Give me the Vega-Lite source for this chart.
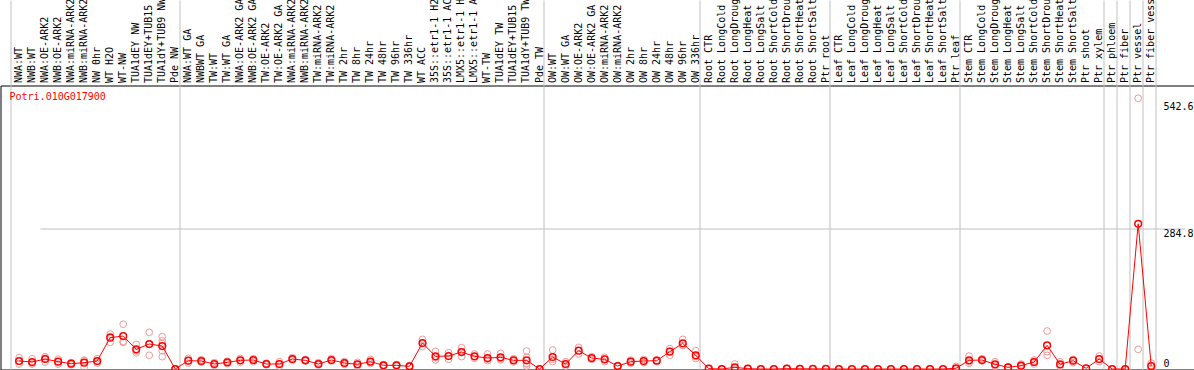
{
  "$schema": "https://vega.github.io/schema/vega-lite/v6.json",
  "autosize": "none",
  "width": 1194,
  "height": 284,
  "padding": {"left": 0.5, "top": 85.5, "right": 0, "bottom": 0.5},
  "background": "white",
  "config": {"view": {"stroke": "black", "strokeWidth": 1}, "font": "DejaVu Sans Mono"},
  "datasets": {
    "means": [
      {"col": "NWA:WT", "value": 16.3}, {"col": "NWB:WT", "value": 14.2}, {"col": "NWA:OE-ARK2", "value": 20.3}, {"col": "NWB:OE-ARK2", "value": 14.9},
      {"col": "NWA:miRNA-ARK2", "value": 10.8}, {"col": "NWB:miRNA-ARK2", "value": 12.9}, {"col": "NW 0hr", "value": 16.3}, {"col": "WT H2O", "value": 63.7},
      {"col": "WT-NW", "value": 67.0}, {"col": "TUA1dEY NW", "value": 40.0}, {"col": "TUA1dEY+TUB15 NW", "value": 50.8}, {"col": "TUA1dY+TUB9 NW", "value": 46.7},
      {"col": "Pde NW", "value": 0},
      {"col": "NWA:WT GA", "value": 16.9}, {"col": "NWBWT GA", "value": 16.3}, {"col": "TW:WT", "value": 10.2}, {"col": "TW:WT GA", "value": 13.5},
      {"col": "NWA:OE-ARK2 GA", "value": 17.6}, {"col": "NWB:OE-ARK2 GA", "value": 18.3}, {"col": "TW:OE-ARK2", "value": 10.2}, {"col": "TW:OE-ARK2 GA", "value": 10.2},
      {"col": "NWA:miRNA-ARK2 GA", "value": 20.3}, {"col": "NWB:miRNA-ARK2 GA", "value": 17.6}, {"col": "TW:miRNA-ARK2", "value": 10.2}, {"col": "TW:miRNA-ARK2 GA", "value": 18.3},
      {"col": "TW 2hr", "value": 12.2}, {"col": "TW 8hr", "value": 9.5}, {"col": "TW 24hr", "value": 14.9}, {"col": "TW 48hr", "value": 7.5}, {"col": "TW 96hr", "value": 7.5},
      {"col": "TW 336hr", "value": 5.4}, {"col": "WT ACC", "value": 52.8}, {"col": "35S::etr1-1 H2O", "value": 25.7}, {"col": "35S::etr1-1 ACC", "value": 26.4},
      {"col": "LMX5::etr1-1 H2O", "value": 34.5}, {"col": "LMX5::etr1-1 ACC", "value": 25.7}, {"col": "WT-TW", "value": 22.3}, {"col": "TUA1dEY TW", "value": 23.7},
      {"col": "TUA1dEY+TUB15 TW", "value": 17.6}, {"col": "TUA1dY+TUB9 TW", "value": 17.6}, {"col": "Pde TW", "value": 0},
      {"col": "OW:WT", "value": 24.4}, {"col": "OW:WT GA", "value": 10.2}, {"col": "OW:OE-ARK2", "value": 37.2}, {"col": "OW:OE-ARK2 GA", "value": 22.3},
      {"col": "OW:miRNA-ARK2", "value": 19.6}, {"col": "OW:miRNA-ARK2 GA", "value": 6.1}, {"col": "OW 2hr", "value": 14.9}, {"col": "OW 8hr", "value": 16.3},
      {"col": "OW 24hr", "value": 16.9}, {"col": "OW 48hr", "value": 35.2}, {"col": "OW 96hr", "value": 52.1}, {"col": "OW 336hr", "value": 27.8},
      {"col": "Root CTR", "value": 0.7}, {"col": "Root LongCold", "value": 0}, {"col": "Root LongDrought", "value": 3.4}, {"col": "Root LongHeat", "value": 0.7},
      {"col": "Root LongSalt", "value": 0}, {"col": "Root ShortCold", "value": 0}, {"col": "Root ShortDrought", "value": 0.7}, {"col": "Root ShortHeat", "value": 0.5},
      {"col": "Root ShortSalt", "value": 0.3}, {"col": "Ptr root", "value": 0.3},
      {"col": "Leaf CTR", "value": 0}, {"col": "Leaf LongCold", "value": 0}, {"col": "Leaf LongDrought", "value": 0}, {"col": "Leaf LongHeat", "value": 0},
      {"col": "Leaf LongSalt", "value": 0}, {"col": "Leaf ShortCold", "value": 0}, {"col": "Leaf ShortDrought", "value": 0}, {"col": "Leaf ShortHeat", "value": 0},
      {"col": "Leaf ShortSalt", "value": 0}, {"col": "Ptr leaf", "value": 1.5},
      {"col": "Stem CTR", "value": 17.6}, {"col": "Stem LongCold", "value": 18.3}, {"col": "Stem LongDrought", "value": 9.5}, {"col": "Stem LongHeat", "value": 3.4},
      {"col": "Stem LongSalt", "value": 6.8}, {"col": "Stem ShortCold", "value": 14.2}, {"col": "Stem ShortDrought", "value": 48.1}, {"col": "Stem ShortHeat", "value": 9.5},
      {"col": "Stem ShortSalt", "value": 16.9}, {"col": "Ptr shoot", "value": 1.4}, {"col": "Ptr xylem", "value": 20.3},
      {"col": "Ptr phloem", "value": 0}, {"col": "Ptr fiber", "value": 0}, {"col": "Ptr vessel", "value": 295}, {"col": "Ptr fiber vessel", "value": 6.1}
    ],
    "reps": [
      {"col": "NWA:WT", "value": 23}, {"col": "NWA:WT", "value": 16}, {"col": "NWA:WT", "value": 10},
      {"col": "NWB:WT", "value": 21}, {"col": "NWB:WT", "value": 12}, {"col": "NWB:WT", "value": 10},
      {"col": "NWA:OE-ARK2", "value": 25}, {"col": "NWA:OE-ARK2", "value": 22}, {"col": "NWA:OE-ARK2", "value": 14},
      {"col": "NWB:OE-ARK2", "value": 20}, {"col": "NWB:OE-ARK2", "value": 15}, {"col": "NWB:OE-ARK2", "value": 10},
      {"col": "NWA:miRNA-ARK2", "value": 13}, {"col": "NWA:miRNA-ARK2", "value": 11}, {"col": "NWA:miRNA-ARK2", "value": 8.5},
      {"col": "NWB:miRNA-ARK2", "value": 18}, {"col": "NWB:miRNA-ARK2", "value": 17}, {"col": "NWB:miRNA-ARK2", "value": 3.5},
      {"col": "NW 0hr", "value": 21}, {"col": "NW 0hr", "value": 16}, {"col": "NW 0hr", "value": 12},
      {"col": "WT H2O", "value": 71}, {"col": "WT H2O", "value": 66}, {"col": "WT H2O", "value": 54},
      {"col": "WT-NW", "value": 91}, {"col": "WT-NW", "value": 56}, {"col": "WT-NW", "value": 54},
      {"col": "TUA1dEY NW", "value": 50}, {"col": "TUA1dEY NW", "value": 37}, {"col": "TUA1dEY NW", "value": 33},
      {"col": "TUA1dEY+TUB15 NW", "value": 74.5}, {"col": "TUA1dEY+TUB15 NW", "value": 50}, {"col": "TUA1dEY+TUB15 NW", "value": 27.9},
      {"col": "TUA1dY+TUB9 NW", "value": 65.7}, {"col": "TUA1dY+TUB9 NW", "value": 57.6}, {"col": "TUA1dY+TUB9 NW", "value": 52}, {"col": "TUA1dY+TUB9 NW", "value": 37.2}, {"col": "TUA1dY+TUB9 NW", "value": 25.1},
      {"col": "Pde NW", "value": 0}, {"col": "Pde NW", "value": 0},
      {"col": "NWA:WT GA", "value": 21.7}, {"col": "NWA:WT GA", "value": 17}, {"col": "NWA:WT GA", "value": 12},
      {"col": "NWBWT GA", "value": 19}, {"col": "NWBWT GA", "value": 16}, {"col": "NWBWT GA", "value": 14},
      {"col": "TW:WT", "value": 13}, {"col": "TW:WT", "value": 10}, {"col": "TW:WT", "value": 7.5},
      {"col": "TW:WT GA", "value": 16}, {"col": "TW:WT GA", "value": 13.5}, {"col": "TW:WT GA", "value": 11},
      {"col": "NWA:OE-ARK2 GA", "value": 21.7}, {"col": "NWA:OE-ARK2 GA", "value": 17.6}, {"col": "NWA:OE-ARK2 GA", "value": 13.5},
      {"col": "NWB:OE-ARK2 GA", "value": 21}, {"col": "NWB:OE-ARK2 GA", "value": 18}, {"col": "NWB:OE-ARK2 GA", "value": 15},
      {"col": "TW:OE-ARK2", "value": 12}, {"col": "TW:OE-ARK2", "value": 10}, {"col": "TW:OE-ARK2", "value": 8.5},
      {"col": "TW:OE-ARK2 GA", "value": 14.9}, {"col": "TW:OE-ARK2 GA", "value": 10}, {"col": "TW:OE-ARK2 GA", "value": 6},
      {"col": "NWA:miRNA-ARK2 GA", "value": 23}, {"col": "NWA:miRNA-ARK2 GA", "value": 20}, {"col": "NWA:miRNA-ARK2 GA", "value": 18},
      {"col": "NWB:miRNA-ARK2 GA", "value": 19}, {"col": "NWB:miRNA-ARK2 GA", "value": 17.6}, {"col": "NWB:miRNA-ARK2 GA", "value": 16},
      {"col": "TW:miRNA-ARK2", "value": 13}, {"col": "TW:miRNA-ARK2", "value": 10}, {"col": "TW:miRNA-ARK2", "value": 8},
      {"col": "TW:miRNA-ARK2 GA", "value": 21}, {"col": "TW:miRNA-ARK2 GA", "value": 18}, {"col": "TW:miRNA-ARK2 GA", "value": 16},
      {"col": "TW 2hr", "value": 15}, {"col": "TW 2hr", "value": 12}, {"col": "TW 2hr", "value": 9.5},
      {"col": "TW 8hr", "value": 13.5}, {"col": "TW 8hr", "value": 9.5}, {"col": "TW 8hr", "value": 6},
      {"col": "TW 24hr", "value": 19.6}, {"col": "TW 24hr", "value": 15}, {"col": "TW 24hr", "value": 11.5},
      {"col": "TW 48hr", "value": 9}, {"col": "TW 48hr", "value": 7.5}, {"col": "TW 48hr", "value": 6},
      {"col": "TW 96hr", "value": 9}, {"col": "TW 96hr", "value": 7.5}, {"col": "TW 96hr", "value": 6},
      {"col": "TW 336hr", "value": 7}, {"col": "TW 336hr", "value": 5}, {"col": "TW 336hr", "value": 4},
      {"col": "WT ACC", "value": 60.3}, {"col": "WT ACC", "value": 52}, {"col": "WT ACC", "value": 46},
      {"col": "35S::etr1-1 H2O", "value": 35.9}, {"col": "35S::etr1-1 H2O", "value": 23}, {"col": "35S::etr1-1 H2O", "value": 18.3},
      {"col": "35S::etr1-1 ACC", "value": 33.2}, {"col": "35S::etr1-1 ACC", "value": 26}, {"col": "35S::etr1-1 ACC", "value": 19.6},
      {"col": "LMX5::etr1-1 H2O", "value": 43.3}, {"col": "LMX5::etr1-1 H2O", "value": 35}, {"col": "LMX5::etr1-1 H2O", "value": 25.1},
      {"col": "LMX5::etr1-1 ACC", "value": 30.5}, {"col": "LMX5::etr1-1 ACC", "value": 25}, {"col": "LMX5::etr1-1 ACC", "value": 21.7},
      {"col": "WT-TW", "value": 30.5}, {"col": "WT-TW", "value": 20}, {"col": "WT-TW", "value": 16.9},
      {"col": "TUA1dEY TW", "value": 31.8}, {"col": "TUA1dEY TW", "value": 21}, {"col": "TUA1dEY TW", "value": 18.3},
      {"col": "TUA1dEY+TUB15 TW", "value": 21}, {"col": "TUA1dEY+TUB15 TW", "value": 17.6}, {"col": "TUA1dEY+TUB15 TW", "value": 14.2},
      {"col": "TUA1dY+TUB9 TW", "value": 36.6}, {"col": "TUA1dY+TUB9 TW", "value": 24}, {"col": "TUA1dY+TUB9 TW", "value": 10.2}, {"col": "TUA1dY+TUB9 TW", "value": 6.1}, {"col": "TUA1dY+TUB9 TW", "value": 11},
      {"col": "Pde TW", "value": 0}, {"col": "Pde TW", "value": 0},
      {"col": "OW:WT", "value": 38.6}, {"col": "OW:WT", "value": 19.6}, {"col": "OW:WT", "value": 15},
      {"col": "OW:WT GA", "value": 14.9}, {"col": "OW:WT GA", "value": 10}, {"col": "OW:WT GA", "value": 6.1},
      {"col": "OW:OE-ARK2", "value": 44}, {"col": "OW:OE-ARK2", "value": 37}, {"col": "OW:OE-ARK2", "value": 30.5},
      {"col": "OW:OE-ARK2 GA", "value": 25}, {"col": "OW:OE-ARK2 GA", "value": 22}, {"col": "OW:OE-ARK2 GA", "value": 19.6},
      {"col": "OW:miRNA-ARK2", "value": 23.7}, {"col": "OW:miRNA-ARK2", "value": 19.6}, {"col": "OW:miRNA-ARK2", "value": 14.9},
      {"col": "OW:miRNA-ARK2 GA", "value": 7}, {"col": "OW:miRNA-ARK2 GA", "value": 6}, {"col": "OW:miRNA-ARK2 GA", "value": 5},
      {"col": "OW 2hr", "value": 18.3}, {"col": "OW 2hr", "value": 15}, {"col": "OW 2hr", "value": 11.5},
      {"col": "OW 8hr", "value": 19.6}, {"col": "OW 8hr", "value": 16}, {"col": "OW 8hr", "value": 13},
      {"col": "OW 24hr", "value": 18.3}, {"col": "OW 24hr", "value": 17}, {"col": "OW 24hr", "value": 15.6},
      {"col": "OW 48hr", "value": 41.3}, {"col": "OW 48hr", "value": 36}, {"col": "OW 48hr", "value": 28},
      {"col": "OW 96hr", "value": 60.3}, {"col": "OW 96hr", "value": 48}, {"col": "OW 96hr", "value": 48.1},
      {"col": "OW 336hr", "value": 37.2}, {"col": "OW 336hr", "value": 25}, {"col": "OW 336hr", "value": 21},
      {"col": "Root CTR", "value": 1.4}, {"col": "Root CTR", "value": 0},
      {"col": "Root LongCold", "value": 0}, {"col": "Root LongCold", "value": 0},
      {"col": "Root LongDrought", "value": 10.2}, {"col": "Root LongDrought", "value": 0}, {"col": "Root LongDrought", "value": 0},
      {"col": "Root LongHeat", "value": 1.4}, {"col": "Root LongHeat", "value": 0},
      {"col": "Root LongSalt", "value": 0}, {"col": "Root ShortCold", "value": 0},
      {"col": "Root ShortDrought", "value": 1.4}, {"col": "Root ShortDrought", "value": 0},
      {"col": "Root ShortHeat", "value": 1}, {"col": "Root ShortHeat", "value": 0},
      {"col": "Root ShortSalt", "value": 0.5}, {"col": "Ptr root", "value": 0.5},
      {"col": "Leaf CTR", "value": 0}, {"col": "Leaf LongCold", "value": 0}, {"col": "Leaf LongDrought", "value": 0}, {"col": "Leaf LongHeat", "value": 0},
      {"col": "Leaf LongSalt", "value": 0}, {"col": "Leaf ShortCold", "value": 0}, {"col": "Leaf ShortDrought", "value": 0}, {"col": "Leaf ShortHeat", "value": 0},
      {"col": "Leaf ShortSalt", "value": 0},
      {"col": "Ptr leaf", "value": 5.4}, {"col": "Ptr leaf", "value": 0.5}, {"col": "Ptr leaf", "value": 0},
      {"col": "Stem CTR", "value": 26.4}, {"col": "Stem CTR", "value": 15}, {"col": "Stem CTR", "value": 11.5},
      {"col": "Stem LongCold", "value": 21}, {"col": "Stem LongCold", "value": 18}, {"col": "Stem LongCold", "value": 16},
      {"col": "Stem LongDrought", "value": 14.9}, {"col": "Stem LongDrought", "value": 8}, {"col": "Stem LongDrought", "value": 5.5},
      {"col": "Stem LongHeat", "value": 4}, {"col": "Stem LongHeat", "value": 3.4}, {"col": "Stem LongHeat", "value": 2.8},
      {"col": "Stem LongSalt", "value": 10.2}, {"col": "Stem LongSalt", "value": 6}, {"col": "Stem LongSalt", "value": 4.2},
      {"col": "Stem ShortCold", "value": 18.3}, {"col": "Stem ShortCold", "value": 14}, {"col": "Stem ShortCold", "value": 10.2},
      {"col": "Stem ShortDrought", "value": 77.2}, {"col": "Stem ShortDrought", "value": 35.2}, {"col": "Stem ShortDrought", "value": 27.8},
      {"col": "Stem ShortHeat", "value": 14.9}, {"col": "Stem ShortHeat", "value": 8}, {"col": "Stem ShortHeat", "value": 5.5},
      {"col": "Stem ShortSalt", "value": 19.6}, {"col": "Stem ShortSalt", "value": 17}, {"col": "Stem ShortSalt", "value": 12.9},
      {"col": "Ptr shoot", "value": 1.4},
      {"col": "Ptr xylem", "value": 26.4}, {"col": "Ptr xylem", "value": 20}, {"col": "Ptr xylem", "value": 14.9},
      {"col": "Ptr phloem", "value": 0}, {"col": "Ptr fiber", "value": 0},
      {"col": "Ptr vessel", "value": 550}, {"col": "Ptr vessel", "value": 40},
      {"col": "Ptr fiber vessel", "value": 12}, {"col": "Ptr fiber vessel", "value": 0.2}
    ],
    "gene": [{"gene": "Potri.010G017900"}]
  },
  "layer": [
    {
      "encoding": {
        "x": {
          "field": "col",
          "type": "nominal",
          "bandPosition": 0.7,
          "scale": {
            "type": "band",
            "domain": ["NWA:WT", "NWB:WT", "NWA:OE-ARK2", "NWB:OE-ARK2", "NWA:miRNA-ARK2", "NWB:miRNA-ARK2", "NW 0hr", "WT H2O", "WT-NW", "TUA1dEY NW", "TUA1dEY+TUB15 NW", "TUA1dY+TUB9 NW", "Pde NW",
              "NWA:WT GA", "NWBWT GA", "TW:WT", "TW:WT GA", "NWA:OE-ARK2 GA", "NWB:OE-ARK2 GA", "TW:OE-ARK2", "TW:OE-ARK2 GA", "NWA:miRNA-ARK2 GA", "NWB:miRNA-ARK2 GA", "TW:miRNA-ARK2", "TW:miRNA-ARK2 GA",
              "TW 2hr", "TW 8hr", "TW 24hr", "TW 48hr", "TW 96hr", "TW 336hr", "WT ACC", "35S::etr1-1 H2O", "35S::etr1-1 ACC", "LMX5::etr1-1 H2O", "LMX5::etr1-1 ACC", "WT-TW", "TUA1dEY TW", "TUA1dEY+TUB15 TW", "TUA1dY+TUB9 TW", "Pde TW",
              "OW:WT", "OW:WT GA", "OW:OE-ARK2", "OW:OE-ARK2 GA", "OW:miRNA-ARK2", "OW:miRNA-ARK2 GA", "OW 2hr", "OW 8hr", "OW 24hr", "OW 48hr", "OW 96hr", "OW 336hr",
              "Root CTR", "Root LongCold", "Root LongDrought", "Root LongHeat", "Root LongSalt", "Root ShortCold", "Root ShortDrought", "Root ShortHeat", "Root ShortSalt", "Ptr root",
              "Leaf CTR", "Leaf LongCold", "Leaf LongDrought", "Leaf LongHeat", "Leaf LongSalt", "Leaf ShortCold", "Leaf ShortDrought", "Leaf ShortHeat", "Leaf ShortSalt", "Ptr leaf",
              "Stem CTR", "Stem LongCold", "Stem LongDrought", "Stem LongHeat", "Stem LongSalt", "Stem ShortCold", "Stem ShortDrought", "Stem ShortHeat", "Stem ShortSalt", "Ptr shoot", "Ptr xylem",
              "Ptr phloem", "Ptr fiber", "Ptr vessel", "Ptr fiber vessel"],
            "range": [9.5, 1154.6],
            "paddingInner": 0,
            "paddingOuter": 0
          },
          "axis": {
            "orient": "top",
            "title": null,
            "domain": false,
            "tickBand": "extent",
            "ticks": true,
            "tickSize": 85.5,
            "tickColor": "#c0c0c0",
            "tickWidth": 1,
            "tickOpacity": {"condition": {"test": "!isValid(datum.value) || indexof(['Pde NW','Pde TW','OW 336hr','Ptr root','Ptr leaf','Ptr xylem','Ptr phloem','Ptr fiber','Ptr vessel','Ptr fiber vessel'], datum.value) >= 0", "value": 1}, "value": 0},
            "grid": true,
            "gridColor": "#c0c0c0",
            "gridWidth": 1,
            "gridOpacity": {"condition": {"test": "!isValid(datum.value) || indexof(['Pde NW','Pde TW','OW 336hr','Ptr root','Ptr leaf','Ptr xylem','Ptr phloem','Ptr fiber','Ptr vessel','Ptr fiber vessel'], datum.value) >= 0", "value": 1}, "value": 0},
            "labelAngle": 270,
            "labelAlign": "left",
            "labelBaseline": "middle",
            "labelPadding": -82.5,
            "labelOffset": 2,
            "labelFont": "DejaVu Sans Mono",
            "labelFontSize": 10,
            "labelColor": "black",
            "labelOverlap": false,
            "labelLimit": 0,
            "labelBound": false,
            "zindex": 0
          }
        },
        "y": {
          "field": "value",
          "type": "quantitative",
          "scale": {"domain": [-1, 576], "zero": false, "nice": false},
          "axis": {
            "orient": "right",
            "title": null,
            "domain": false,
            "ticks": false,
            "values": [0, 284.8, 542.6],
            "format": ".1~f",
            "grid": true,
            "gridColor": "#c0c0c0",
            "gridOpacity": {"condition": {"test": "datum.value == 284.8", "value": 1}, "value": 0},
            "labelAlign": "left",
            "labelBaseline": "top",
            "labelOffset": {"condition": {"test": "datum.value == 0", "value": -11}, "value": 0},
            "labelPadding": -31.5,
            "labelFont": "DejaVu Sans Mono",
            "labelFontSize": 10,
            "labelColor": "black",
            "labelOverlap": false,
            "labelFlush": false,
            "labelBound": false,
            "zindex": 0
          }
        }
      },
      "layer": [
        {
          "data": {"name": "reps"},
          "mark": {"type": "point", "shape": "circle", "filled": false, "size": 45, "stroke": "#f09a9a", "strokeWidth": 1, "opacity": 1}
        },
        {
          "data": {"name": "means"},
          "mark": {"type": "line", "color": "#ff0000", "strokeWidth": 1}
        },
        {
          "data": {"name": "means"},
          "mark": {"type": "point", "shape": "circle", "filled": false, "size": 45, "stroke": "#ff0000", "strokeWidth": 1.5, "opacity": 1}
        }
      ]
    },
    {
      "data": {"name": "gene"},
      "mark": {"type": "text", "font": "DejaVu Sans Mono", "fontSize": 10, "fill": "#ff0000", "align": "left", "baseline": "alphabetic", "dx": -7},
      "encoding": {
        "x": {"datum": "NWA:WT", "type": "nominal"},
        "y": {"datum": 546, "type": "quantitative"},
        "text": {"field": "gene", "type": "nominal"}
      }
    }
  ]
}
